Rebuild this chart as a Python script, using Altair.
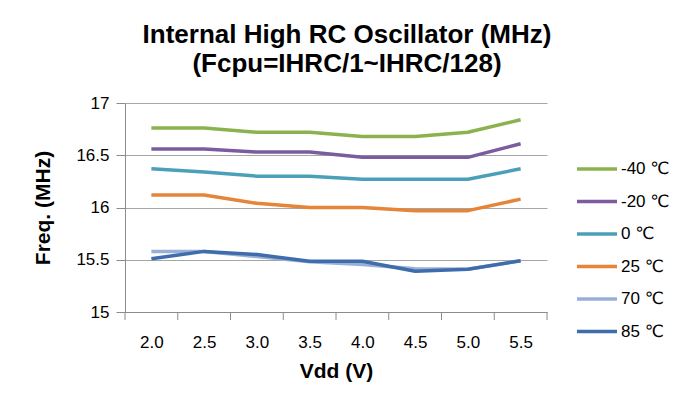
import altair as alt
import pandas as pd

# ---- data ----
vdd = ["2.0", "2.5", "3.0", "3.5", "4.0", "4.5", "5.0", "5.5"]
series = ["-40 ℃", "-20 ℃", "0 ℃", "25 ℃", "70 ℃", "85 ℃"]
t_m40 = [16.76, 16.76, 16.72, 16.72, 16.68, 16.68, 16.72, 16.84]
t_m20 = [16.56, 16.56, 16.53, 16.53, 16.48, 16.48, 16.48, 16.61]
t_0 = [16.37, 16.34, 16.30, 16.30, 16.27, 16.27, 16.27, 16.37]
t_25 = [16.12, 16.12, 16.04, 16.00, 16.00, 15.97, 15.97, 16.08]
t_70 = [15.58, 15.58, 15.53, 15.48, 15.455, 15.415, 15.41, 15.49]
t_85 = [15.51, 15.58, 15.55, 15.485, 15.485, 15.39, 15.41, 15.49]
colors = ["#8CB24F", "#7B5C9F", "#4BA0B9", "#E4853A", "#98B0D8", "#3F6DAC"]
y_ticks = [15, 15.5, 16, 16.5, 17]
band_edges = list(range(len(vdd) + 1))

values = [t_m40, t_m20, t_0, t_25, t_70, t_85]
rows = []
for s_i, (name, vals) in enumerate(zip(series, values)):
    for v, f in zip(vdd, vals):
        rows.append({"Vdd": v, "Freq": f, "Temp": name, "order": s_i})
df = pd.DataFrame(rows)
edges_df = pd.DataFrame({"edge": band_edges})

FONT = "Liberation Sans, Arial, DejaVu Sans, Noto Sans CJK SC"
W, H = 422, 209

lines = alt.Chart(df).mark_line(strokeWidth=3.5, strokeJoin="round").encode(
    x=alt.X("Vdd:O", sort=vdd,
            scale=alt.Scale(type="point", padding=0.5),
            axis=alt.Axis(title="Vdd (V)", labelAngle=0, ticks=False,
                          labelFontSize=17, labelPadding=22, labelColor="#000",
                          domainColor="#8C8C8C", domainWidth=1, grid=False,
                          titleFontSize=21, titleFontWeight="bold", titleColor="#000",
                          titleBaseline="alphabetic", titleY=65)),
    y=alt.Y("Freq:Q",
            scale=alt.Scale(domain=[15, 17], nice=False, zero=False),
            axis=alt.Axis(title="Freq. (MHz)", values=y_ticks, format="~g",
                          labelFontSize=17, labelColor="#000", labelPadding=7,
                          tickSize=9, tickColor="#8C8C8C", domainColor="#8C8C8C",
                          gridColor="#A6A6A6", gridWidth=1,
                          titleFontSize=21, titleFontWeight="bold", titleColor="#000",
                          titleAngle=270, titleAlign="center", titleBaseline="middle",
                          titleX=-82, titleY=H / 2)),
    color=alt.Color("Temp:N",
                    scale=alt.Scale(domain=series, range=colors),
                    legend=alt.Legend(title=None, orient="none", legendX=450, legendY=44,
                                      symbolType="stroke", symbolSize=1600,
                                      symbolStrokeWidth=3.5, labelFontSize=17,
                                      labelColor="#000", labelOffset=2,
                                      rowPadding=2.5)),
    order=alt.Order("order:Q"),
    detail="Temp:N",
)

ticks = alt.Chart(edges_df).mark_rule(color="#8C8C8C", strokeWidth=1).encode(
    x=alt.X("edge:Q", scale=alt.Scale(domain=[0, len(vdd)], nice=False), axis=None),
    y=alt.value(H),
    y2=alt.value(H + 8),
)

chart = alt.layer(lines, ticks).resolve_scale(x="independent").properties(
    width=W, height=H,
    title=alt.TitleParams(
        text=["Internal High RC Oscillator (MHz)", "(Fcpu=IHRC/1~IHRC/128)"],
        fontSize=26, fontWeight="bold", font=FONT, color="#000",
        anchor="middle", dx=11, lineHeight=29, offset=17),
    autosize=alt.AutoSizeParams(type="none"),
    padding={"left": 117, "top": 95, "right": 131, "bottom": 93},
).configure(font=FONT).configure_view(stroke=None).configure_axis(
    labelFont=FONT, titleFont=FONT).configure_legend(labelFont=FONT)

chart.save("out.html", embed_options={"renderer": "svg", "actions": False})
